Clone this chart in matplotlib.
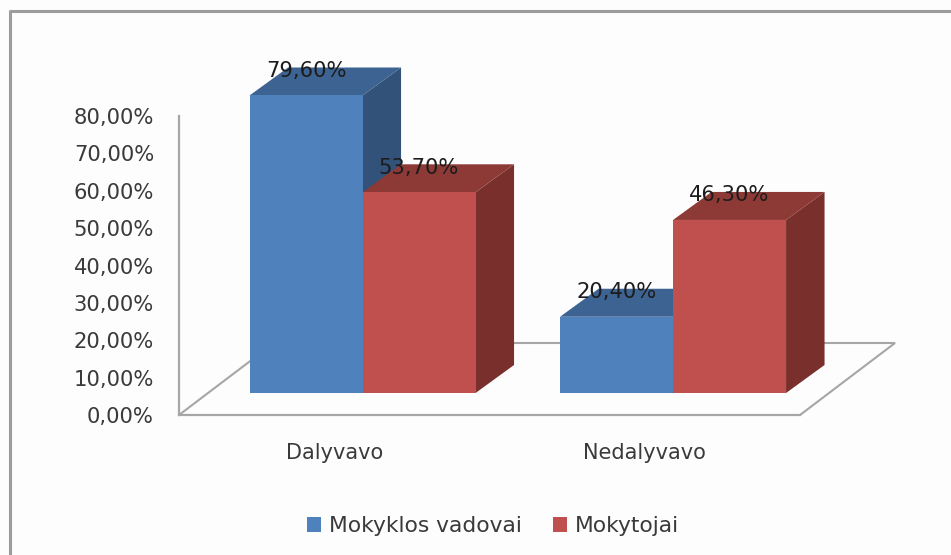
import matplotlib
matplotlib.use("Agg")
import matplotlib.pyplot as plt
from matplotlib.lines import Line2D
from matplotlib.patches import Patch, Polygon

categories = ["Dalyvavo", "Nedalyvavo"]
series_names = ["Mokyklos vadovai", "Mokytojai"]
vadovai = [79.6, 20.4]
mokytojai = [53.7, 46.3]
y_ticks = [0, 10, 20, 30, 40, 50, 60, 70, 80]

W, H = 951, 555
fig = plt.figure(figsize=(W / 100, H / 100), dpi=100, facecolor="#fdfdfd")

# axes box is the front edge of the floor and the left wall line
left, right, bottom, top = 179, 800, 415, 116
ax = fig.add_axes([left / W, 1 - bottom / H, (right - left) / W, (bottom - top) / H])
ax.set_xlim(-0.5, 1.5)
ax.set_ylim(0, 80)
ax.patch.set_alpha(0)

px_x = 2 / (right - left)  # data units per pixel
px_y = 80 / (bottom - top)

grey = "#a6a6a6"
text_col = "#3a3a3a"

for s in ["top", "right"]:
    ax.spines[s].set_visible(False)
for s in ["left", "bottom"]:
    ax.spines[s].set_color(grey)
    ax.spines[s].set_linewidth(1.6)

ax.set_xticks(range(len(categories)))
ax.set_xticklabels(categories, fontsize=15, color=text_col)
ax.set_yticks(y_ticks)
ax.set_yticklabels([f"{t:.2f}%".replace(".", ",") for t in y_ticks], fontsize=15.2, color=text_col)
ax.tick_params(axis="x", length=0, pad=20)
ax.tick_params(axis="y", length=0, pad=18)

# floor
floor_dx = 95 * px_x
floor_dy = 72 * px_y
ax.add_patch(Polygon([(-0.5, 0), (-0.5 + floor_dx, floor_dy), (1.5 + floor_dx, floor_dy), (1.5, 0)],
                     closed=False, fill=False, edgecolor=grey, linewidth=1.5, clip_on=False, zorder=1))

# bars stand a bit back from the front edge
base_dx = 28.3 * px_x
base_dy = 22 * px_y
depth_x = 38.5 * px_x
depth_y = 28 * px_y
bar_w = 113 * px_x
label_drop = 3.5 * px_y


def draw_bar(x0, value, front, roof, side):
    x1 = x0 + bar_w
    y0 = base_dy
    y1 = base_dy + value
    ax.add_patch(Polygon([(x1, y0), (x1 + depth_x, y0 + depth_y), (x1 + depth_x, y1 + depth_y), (x1, y1)],
                         facecolor=side, edgecolor="none", clip_on=False, zorder=2))
    ax.add_patch(Polygon([(x0, y1), (x0 + depth_x, y1 + depth_y), (x1 + depth_x, y1 + depth_y), (x1, y1)],
                         facecolor=roof, edgecolor="none", clip_on=False, zorder=2))
    ax.add_patch(Polygon([(x0, y0), (x1, y0), (x1, y1), (x0, y1)],
                         facecolor=front, edgecolor="none", clip_on=False, zorder=2))
    ax.text(x0 + bar_w / 2, y1 + depth_y - label_drop, f"{value:.2f}%".replace(".", ","), ha="center", va="center",
            fontsize=15.2, color="#1c1c1c", clip_on=False, zorder=5)


for i in range(len(categories)):
    center = i + base_dx
    draw_bar(center - bar_w, vadovai[i], "#4f81bd", "#3c6391", "#32527a")
    draw_bar(center, mokytojai[i], "#c0504d", "#8d3a37", "#79302d")

handles = [Patch(facecolor="#4f81bd", label=series_names[0]), Patch(facecolor="#c0504d", label=series_names[1])]
fig.legend(handles=handles, loc="center", bbox_to_anchor=(493 / W, 1 - 526 / H), ncol=2, frameon=False,
           fontsize=15.7, labelcolor=text_col, handlelength=0.64, handleheight=0.64,
           handletextpad=0.36, columnspacing=1.4, borderpad=0)

# grey frame of the pasted chart, only top and left are in the picture
fig.add_artist(Line2D([10 / W, 10 / W, 1], [0, 1 - 11 / H, 1 - 11 / H], color="#9c9c9c", linewidth=2.2))

fig.savefig("out.png", dpi=100, facecolor=fig.get_facecolor())
